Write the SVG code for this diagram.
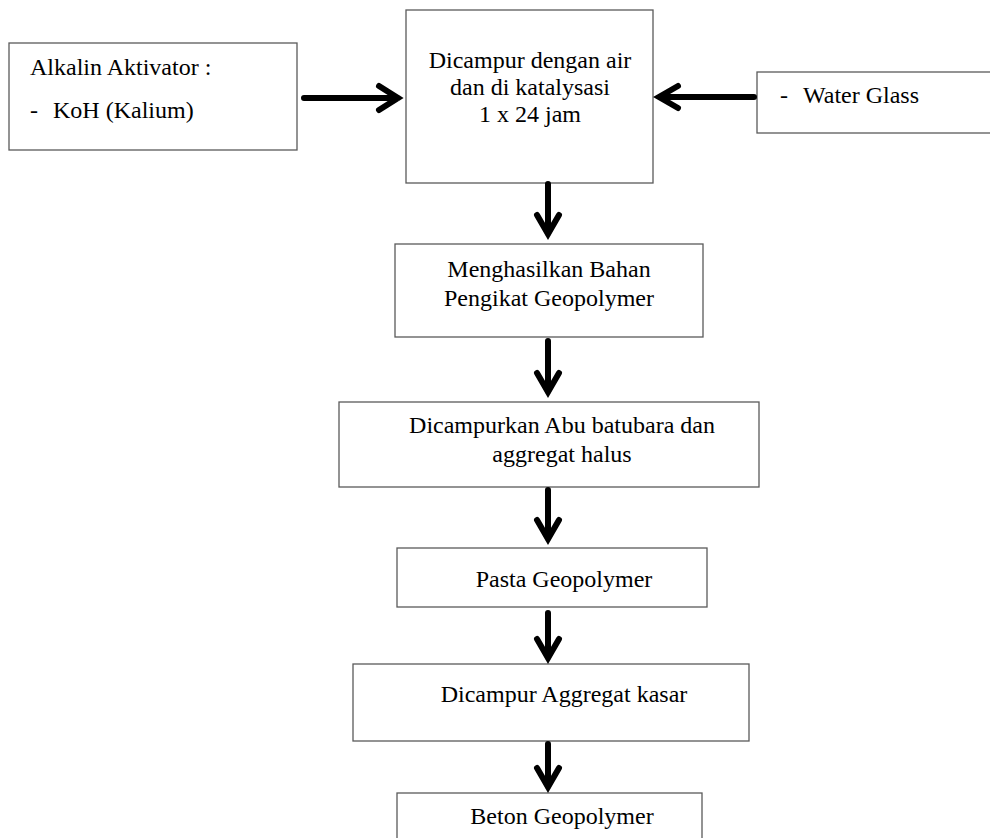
<svg xmlns="http://www.w3.org/2000/svg" width="990" height="838" viewBox="0 0 990 838">
<style>
.box{fill:#fff;stroke:#5a5a5a;stroke-width:1.3}
.t{font-family:"Liberation Serif","Times New Roman",serif;font-size:24px;fill:#000}
.m{text-anchor:middle}
.arr{fill:none;stroke:#000;stroke-width:6;stroke-linecap:round;stroke-linejoin:miter}
</style>
<rect width="990" height="838" fill="#fff"/>
<g id="alkalin">
<rect class="box" x="9" y="43" width="288" height="107"/>
<text class="t" x="30" y="75">Alkalin Aktivator :</text>
<text class="t" x="30" y="118">-</text>
<text class="t" x="53" y="118">KoH (Kalium)</text>
</g>
<g id="campur">
<rect class="box" x="406" y="10" width="247" height="173"/>
<text class="t m" x="530" y="68">Dicampur dengan air</text>
<text class="t m" x="530" y="95">dan di katalysasi</text>
<text class="t m" x="530" y="122">1 x 24 jam</text>
</g>
<g id="waterglass">
<rect class="box" x="757" y="72" width="240" height="61"/>
<text class="t" x="780" y="103">-</text>
<text class="t" x="803" y="103">Water Glass</text>
</g>
<g id="menghasilkan">
<rect class="box" x="395" y="244" width="308" height="93"/>
<text class="t m" x="549" y="277">Menghasilkan Bahan</text>
<text class="t m" x="549" y="306">Pengikat Geopolymer</text>
</g>
<g id="dicampurkan">
<rect class="box" x="339" y="402" width="420" height="85"/>
<text class="t m" x="562" y="433">Dicampurkan Abu batubara dan</text>
<text class="t m" x="562" y="462">aggregat halus</text>
</g>
<g id="pasta">
<rect class="box" x="397" y="548" width="310" height="59"/>
<text class="t m" x="564" y="587">Pasta Geopolymer</text>
</g>
<g id="kasar">
<rect class="box" x="353" y="664" width="396" height="77"/>
<text class="t m" x="564" y="702">Dicampur Aggregat kasar</text>
</g>
<g id="beton">
<rect class="box" x="397" y="793" width="305" height="60"/>
<text class="t m" x="562" y="824">Beton Geopolymer</text>
</g>
<g id="connectors">
<path class="arr" d="M304,98 H398 M379,86 L398,98 L379,110"/>
<path class="arr" d="M754,97 H660 M678,86 L659,97 L678,108"/>
<path class="arr" d="M548,184 V234 M537,215 L548,234 L559,215"/>
<path class="arr" d="M548,341 V392 M537,373 L548,392 L559,373"/>
<path class="arr" d="M548,490 V539 M537,520 L548,539 L559,520"/>
<path class="arr" d="M548,613 V658 M537,639 L548,658 L559,639"/>
<path class="arr" d="M548,744 V787 M537,768 L548,787 L559,768"/>
</g>
</svg>
